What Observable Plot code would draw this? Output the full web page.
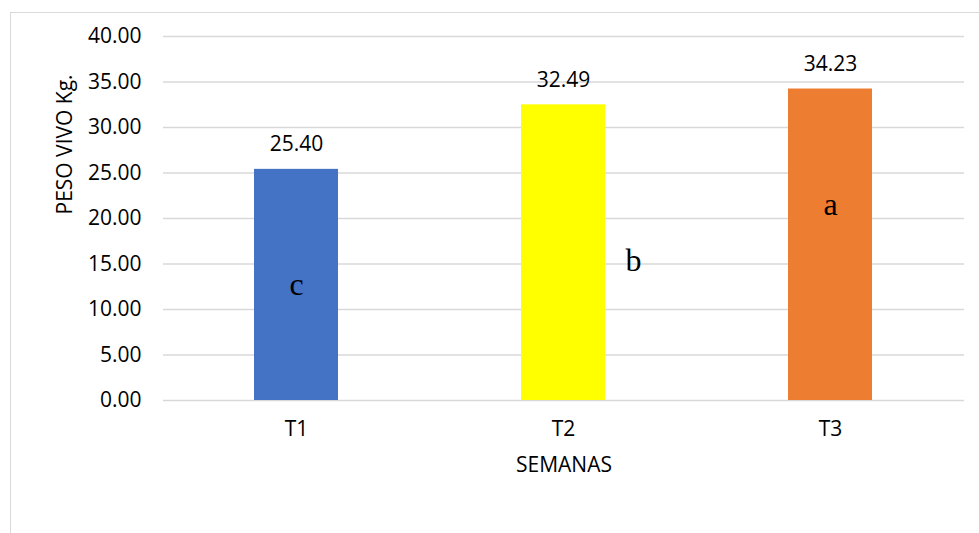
<!DOCTYPE html>
<html>
<head>
<meta charset="utf-8">
<script src="https://cdn.jsdelivr.net/npm/d3@7"></script>
<script src="https://cdn.jsdelivr.net/npm/@observablehq/plot@0.6"></script>
<style>
  html, body { margin: 0; padding: 0; background: #fff; }
  #wrap { position: relative; width: 979px; height: 533px; overflow: hidden; }
  #border { position: absolute; left: 10px; top: 12px; width: 980px; height: 540px;
            border-top: 1.5px solid #d9d9d9; border-left: 1.5px solid #d9d9d9; }
  #chart { position: absolute; left: 0; top: 0; }
</style>
</head>
<body>
<div id="wrap"><div id="border"></div><div id="chart"></div></div>
<script>
const categories = ["T1", "T2", "T3"];
const values = [25.40, 32.49, 34.23];
const colors = ["#4472C4", "#FFFF00", "#ED7D31"];
const letters = ["c", "b", "a"];
const letterValues = [12.7, 15.4, 21.5];
const yTicks = [0, 5, 10, 15, 20, 25, 30, 35, 40];

const data = categories.map((c, i) => ({cat: c, value: values[i], color: colors[i], letter: letters[i], lv: letterValues[i]}));
const font = "'Open Sans', sans-serif";
const fs = 21;

const chart = Plot.plot({
  width: 979,
  height: 533,
  marginLeft: 163,
  marginRight: 15,
  marginTop: 36,
  marginBottom: 133,
  style: {fontFamily: font, fontSize: fs + "px", color: "#000", background: "transparent"},
  x: {domain: categories, paddingInner: 0.685, paddingOuter: 0.3425, label: null},
  y: {domain: [0, 40], ticks: yTicks, label: null},
  marks: [
    Plot.gridY(yTicks, {stroke: "#d9d9d9", strokeOpacity: 1, strokeWidth: 1.5}),
    Plot.barY(data, {x: "cat", y: "value", fill: "color"}),
    Plot.text(data, {x: "cat", y: "value", text: d => d.value.toFixed(2), dy: -25, fontSize: fs, fill: "#000"}),
    Plot.text(data.filter(d => d.letter !== "b"), {x: "cat", y: "lv", text: "letter", fontFamily: "'Liberation Serif', serif", fontSize: 32, fill: "#000"}),
    Plot.text(data.filter(d => d.letter === "b"), {x: "cat", y: "lv", text: "letter", dx: 70, fontFamily: "'Liberation Serif', serif", fontSize: 32, fill: "#000"}),
    Plot.axisY({ticks: yTicks, tickSize: 0, tickPadding: 22, tickFormat: d3.format(".2f"), fontSize: fs, label: null}),
    Plot.axisX({tickSize: 0, tickPadding: 21, fontSize: fs, label: null}),
    Plot.text(["SEMANAS"], {frameAnchor: "bottom", dy: 71, fontSize: fs, fill: "#000"}),
    Plot.text(["PESO VIVO Kg."], {frameAnchor: "left", dx: -98, dy: -4, rotate: -90, fontSize: fs, fill: "#000"})
  ]
});
document.getElementById("chart").appendChild(chart);
</script>
</body>
</html>
